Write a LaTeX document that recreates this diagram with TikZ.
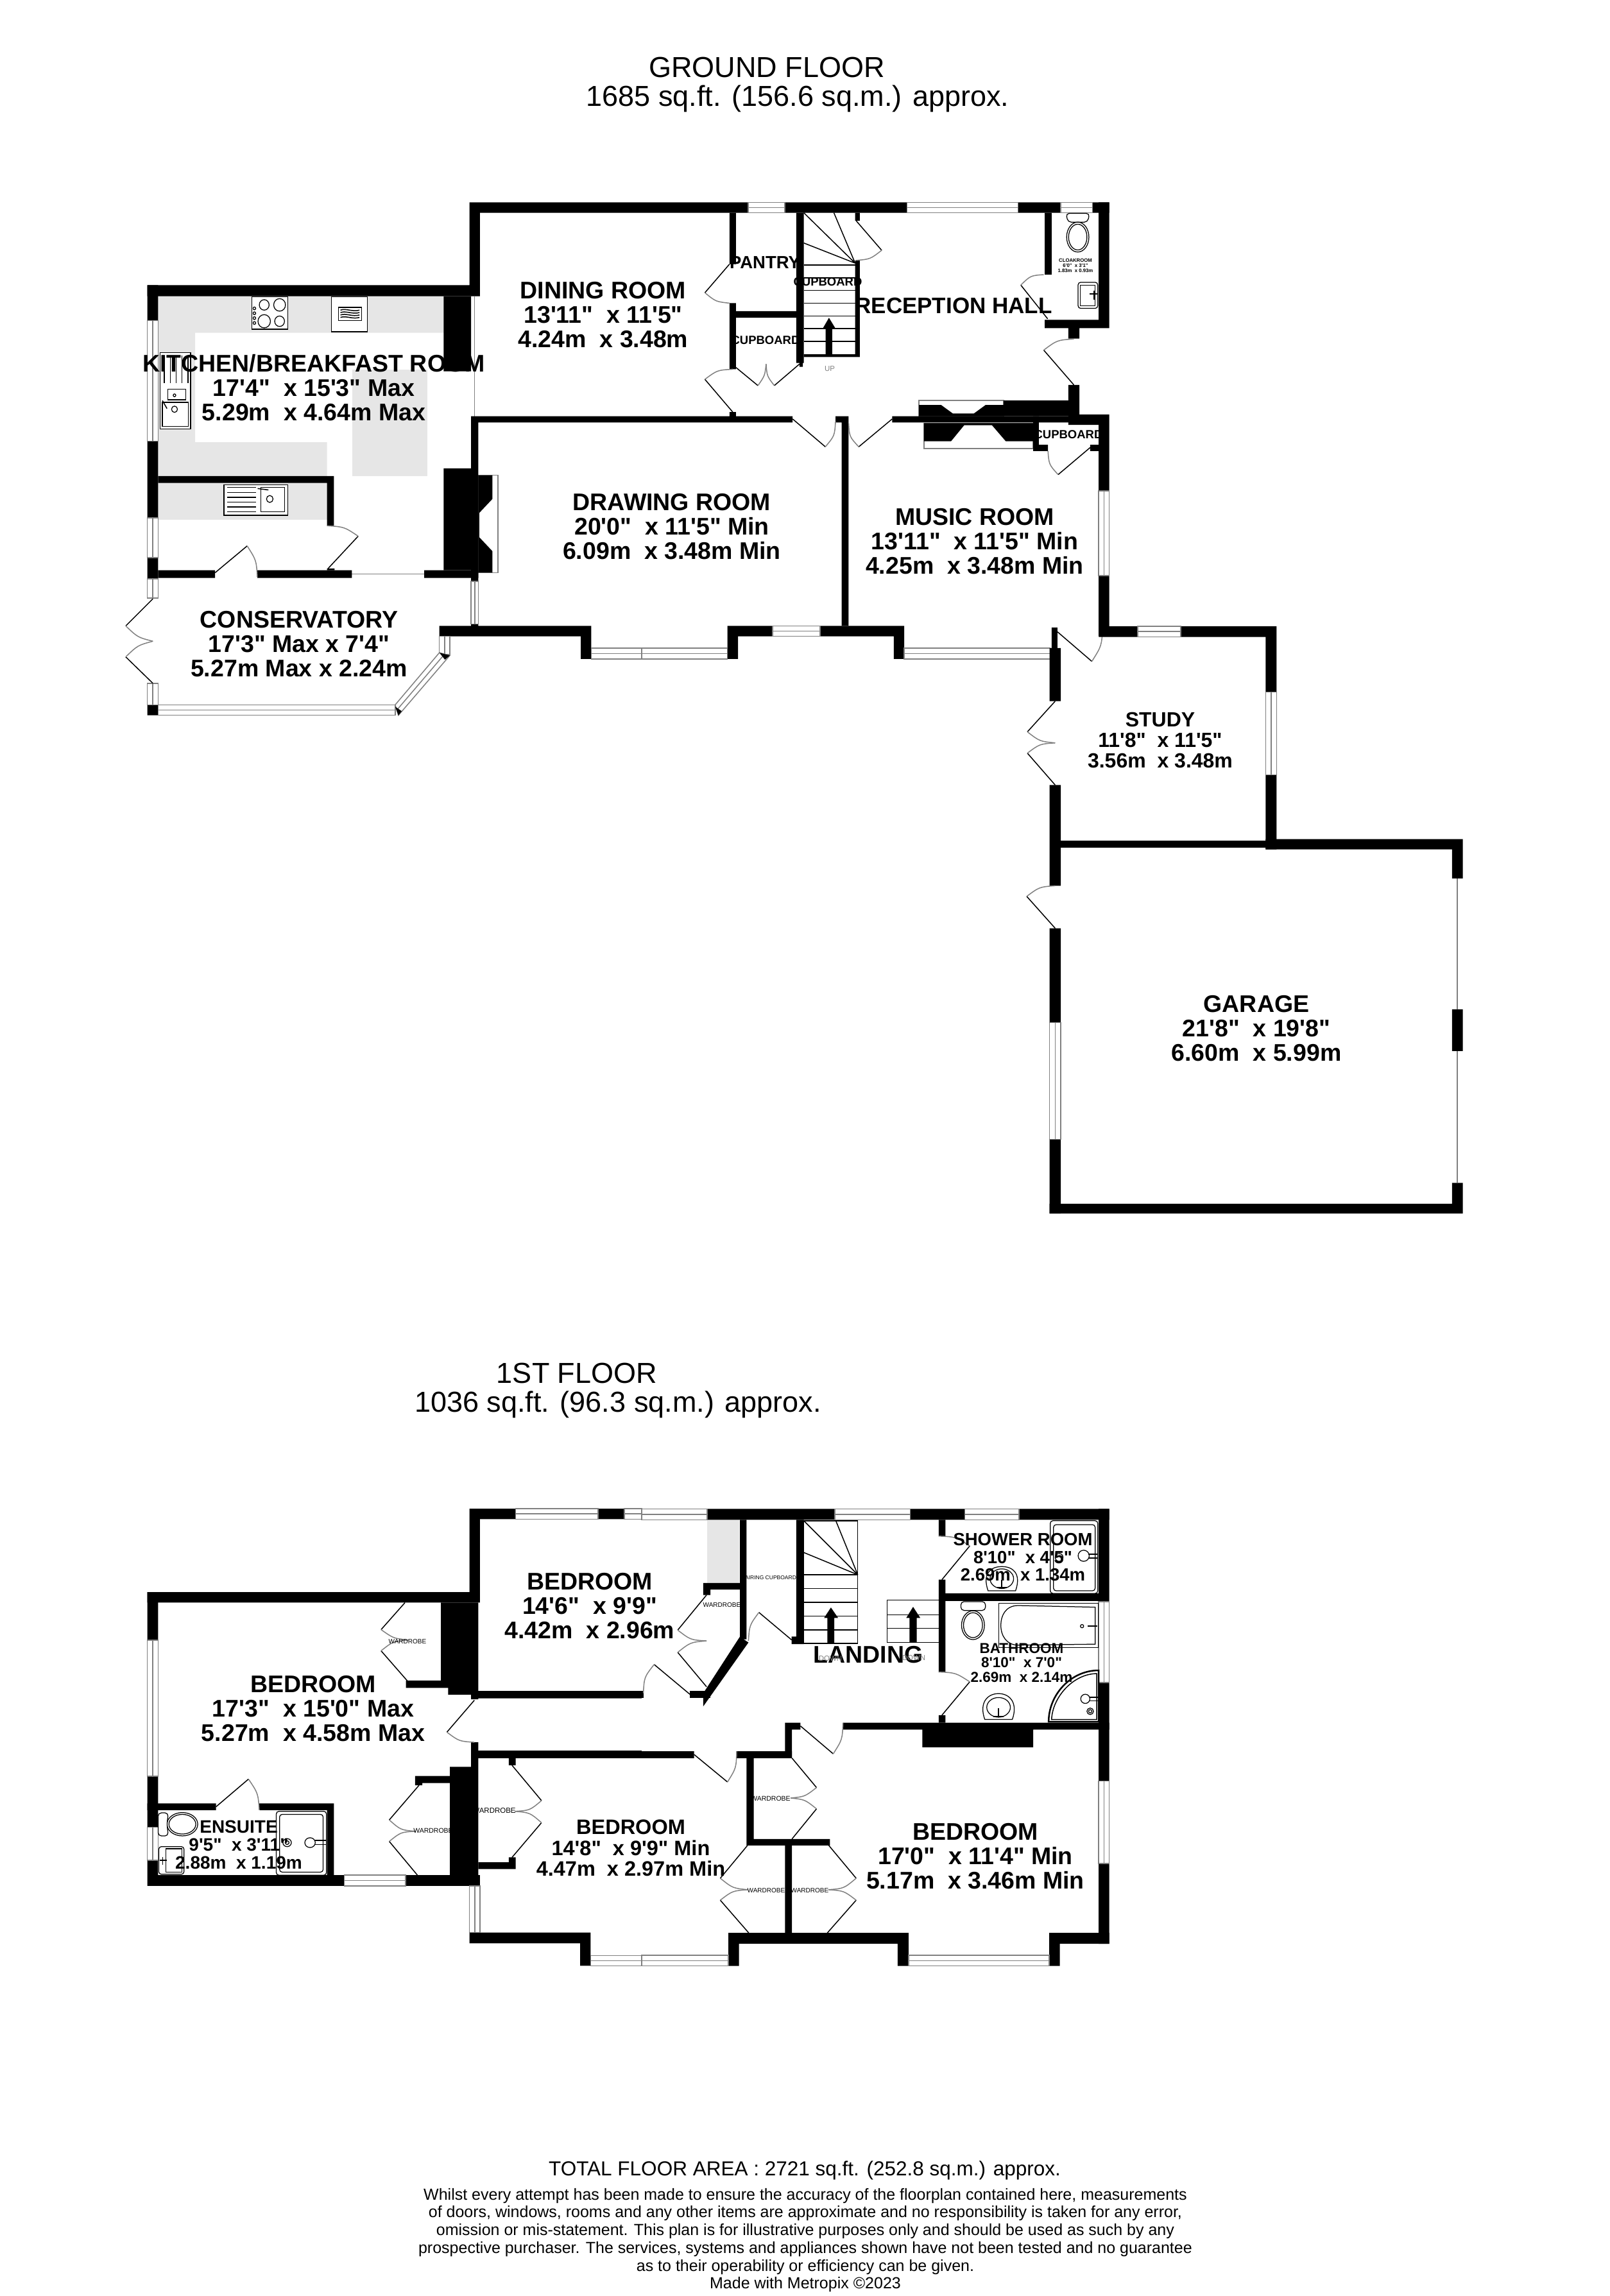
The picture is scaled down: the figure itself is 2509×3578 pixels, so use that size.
\documentclass[tikz,border=0pt]{standalone}
\usepackage{xcolor}
\usepackage{fontspec}
\setmainfont[Ligatures=TeXOff]{Liberation Sans}
\usetikzlibrary{calc}

\definecolor{unitgrey}{HTML}{E6E6E6}
\definecolor{linegrey}{HTML}{808080}

\newcommand\winh[4]{\draw[windowline] (#1,#3) rectangle (#2,#4) (#1,{(#3+#4)/2}) -- (#2,{(#3+#4)/2});}
\newcommand\winv[4]{\draw[windowline] (#1,#3) rectangle (#2,#4) ({(#1+#2)/2},#3) -- ({(#1+#2)/2},#4);}
\newcommand\doorleaf[3]{\draw[leafline] (#1) -- (#2); \draw[swingline] (#2) .. controls ($(#1)!1.11!($(#2)!.5!(#3)$)$) .. (#3);}

\begin{document}
\begin{tikzpicture}[x=0.2pt,y=-0.2pt]
	\tikzstyle{wall} = [fill=black]
	\tikzstyle{unit} = [fill=unitgrey]
	\tikzstyle{windowline} = [draw=linegrey, fill=white, line width=0.3pt]
	\tikzstyle{thinline} = [draw=linegrey, line width=0.3pt]
	\tikzstyle{leafline} = [draw=black, line width=0.3pt]
	\tikzstyle{swingline} = [draw=linegrey, line width=0.3pt]
	\tikzstyle{fitting} = [draw=black, fill=white, line width=0.25pt]
	\tikzstyle{biglabel} = [font=\fontsize{7.5}{7.6}\selectfont\bfseries, align=center, inner sep=0pt]
	\tikzstyle{notelabel} = [font=\fontsize{5}{5.55}\selectfont, align=center, inner sep=0pt]
	\tikzset{roomlabel/.style = {font=\fontsize{#1}{#1}\selectfont\bfseries, align=center, inner sep=0pt}}
	\tikzset{smalllabel/.style = {font=\fontsize{#1}{#1}\selectfont, align=center, inner sep=0pt}}
	\tikzset{groundwest/.style = {x=0.10204pt, y=-0.1084pt, shift={(40pt,-56pt)}}}
	\tikzset{groundeast/.style = {x=0.10204pt, y=-0.1084pt, shift={(200pt,-56pt)}}}
	\tikzset{groundgarage/.style = {x=0.10204pt, y=-0.12755pt, shift={(300pt,-186pt)}}}
	\tikzset{firstwest/.style = {x=0.10204pt, y=-0.09566pt, shift={(40pt,-466pt)}}}
	\tikzset{firsteast/.style = {x=0.10204pt, y=-0.10204pt, shift={(200pt,-466pt)}}}

	\useasboundingbox (0,0) rectangle (2509,3578);

	\begin{scope}[groundwest]
		\fill[unit] (91,335) -- (963,335) -- (963,440) -- (204,440) -- (204,755) -- (607,755) -- (607,852) -- (91,852) -- cycle;
		\fill[unit] (685,546) rectangle (913,852);
		\fill[unit] (91,872) rectangle (607,978);
		\draw[thinline] (1057,335) -- (1057,680);
		\draw[thinline] (683,1134) -- (904,1134);
		\draw[windowline] (1069,850) rectangle (1129,1130);
		\fill[wall] (1069,850) -- (1112,850) -- (1112,918) -- (1072,958) -- (1072,1028) -- (1112,1068) -- (1112,1130) -- (1069,1130) -- cycle;
		\fill[wall] (58,303) rectangle (1074,335) (1042,65) rectangle (1074,335) (1042,65) rectangle (1568,95);
		\fill[wall] (58,303) rectangle (91,405) (58,752) rectangle (91,972) (58,1087) rectangle (91,1148) (58,1510) rectangle (91,1540);
		\fill[wall] (963,335) rectangle (1047,551) (963,830) rectangle (1047,1123);
		\fill[wall] (1047,680) rectangle (1069,1155) (1047,680) rectangle (1568,698);
		\fill[wall] (91,1123) rectangle (265,1145) (394,1123) rectangle (683,1145) (904,1123) rectangle (1069,1145);
		\fill[wall] (91,852) rectangle (628,872) (607,852) rectangle (628,995) (607,1118) rectangle (630,1123);
		\fill[wall] (950,1283) rectangle (1414,1313) (1047,1278) rectangle (1069,1313) (1382,1283) rectangle (1414,1378);
		\winv{58}{91}{405}{752}
		\winv{58}{91}{972}{1087}
		\winv{58}{91}{1148}{1203}
		\winv{58}{91}{1448}{1510}
		\winv{1047}{1069}{1155}{1278}
		\winv{950}{982}{1313}{1365}
		\winh{91}{815}{1510}{1540}
		\winh{1414}{1568}{1347}{1378}
		\draw[windowline] (815,1510) -- (950,1360) -- (982,1368) -- (825,1540) -- cycle (820,1525) -- (966,1364);
		\fill[wall] (815,1515) -- (835,1528) -- (825,1540) -- cycle (950,1360) -- (982,1368) -- (967,1380) -- cycle;
		\doorleaf{265,1130}{363,1053}{394,1143}
		\doorleaf{610,1118}{702,1025}{607,995}
		\doorleaf{75,1205}{-8,1283}{75,1327}
		\doorleaf{75,1448}{-8,1372}{75,1327}
		\draw[fitting] (377,337) rectangle (487,430);
		\draw[fitting] (415,360) circle [x radius=15, y radius=15] (462,360) circle [x radius=18, y radius=18] (415,407) circle [x radius=19, y radius=19] (462,407) circle [x radius=15, y radius=15];
		\foreach \knoby in {370,384,398,412} {\draw[fitting] (385,\knoby) circle [x radius=4, y radius=4];}
		\draw[fitting] (620,337) rectangle (730,437);
		\draw[fitting] (642,367) rectangle (712,405);
		\foreach \wavey in {375,382,389,396} {\draw[leafline] (648,\wavey) .. controls (665,\wavey-6) and (685,\wavey+6) .. (706,\wavey);}
		\draw[fitting] (97,497) rectangle (190,717);
		\foreach \drainx in {110,128,146,164,182} {\draw[leafline] (\drainx,505) -- (\drainx,585);}
		\draw[fitting] (120,602) rectangle (175,633);
		\draw[fitting] (104,640) rectangle (183,710);
		\draw[fitting] (141,620) circle [x radius=4, y radius=4] (141,660) circle [x radius=9, y radius=9];
		\draw[leafline] (104,635) -- (118,658);
		\draw[fitting] (292,877) rectangle (487,965);
		\foreach \drainy in {885,899,913,927,941,955} {\draw[leafline] (302,\drainy) -- (390,\drainy);}
		\draw[fitting] (405,885) rectangle (477,955);
		\draw[fitting] (432,918) circle [x radius=10, y radius=10];
		\draw[leafline] (395,888) -- (428,892);
	\end{scope}

	\begin{scope}[groundeast]
		\draw[windowline] (847,635) rectangle (1105,680);
		\draw[windowline] (862,700) rectangle (1196,773);
		\fill[wall] (847,648) -- (915,648) -- (950,672) -- (1015,672) -- (1050,648) -- (1105,648) -- (1105,680) -- (847,680) -- cycle;
		\fill[wall] (862,700) -- (1196,700) -- (1196,752) -- (1112,752) -- (1070,706) -- (985,706) -- (945,752) -- (862,752) -- cycle;
		\fill[wall] (0,65) rectangle (325,95) (437,65) rectangle (810,95) (1150,65) rectangle (1280,95) (1377,65) rectangle (1428,95);
		\fill[wall] (1396,65) rectangle (1428,427) (1231,95) rectangle (1252,273) (1231,403) rectangle (1428,427) (1303,403) rectangle (1337,457);
		\fill[wall] (1303,590) rectangle (1337,680) (1105,635) rectangle (1337,680);
		\fill[wall] (268,95) rectangle (288,243) (268,355) rectangle (288,545) (288,378) rectangle (472,397);
		\fill[wall] (472,95) rectangle (495,527) (482,527) rectangle (492,538);
		\fill[wall] (652,95) rectangle (666,118) (652,232) rectangle (666,510) (495,502) rectangle (666,510);
		\fill[wall] (0,680) rectangle (461,698) (592,680) rectangle (632,698) (611,680) rectangle (632,1283) (765,680) rectangle (1337,698) (268,668) rectangle (288,680);
		\fill[wall] (1303,675) rectangle (1428,705) (1396,675) rectangle (1428,895) (1396,1138) rectangle (1428,1313);
		\fill[wall] (1196,680) rectangle (1213,780) (1196,762) rectangle (1241,780) (1370,762) rectangle (1396,780);
		\fill[wall] (262,1283) rectangle (294,1378) (262,1283) rectangle (400,1313) (545,1283) rectangle (802,1313) (770,1283) rectangle (802,1378);
		\winh{325}{437}{65}{95}
		\winh{810}{1150}{65}{95}
		\winh{1280}{1377}{65}{95}
		\winh{400}{545}{1283}{1313}
		\winh{0}{262}{1347}{1378}
		\winh{802}{1248}{1347}{1378}
		\winv{1396}{1428}{895}{1138}
		\foreach \tready in {245,282,318,355,392,428,465} {\draw[leafline] (495,\tready) -- (652,\tready);}
		\draw[leafline] (495,95) -- (652,240) (587,95) -- (652,240) (495,182) -- (652,240);
		\fill[wall] (562,503) -- (562,428) -- (553,428) -- (572,397) -- (592,428) -- (582,428) -- (582,503) -- cycle;
		\doorleaf{655,118}{733,203}{655,232}
		\doorleaf{268,243}{193,325}{268,355}
		\doorleaf{278,668}{193,574}{278,545}
		\doorleaf{288,540}{355,592}{380,530}
		\doorleaf{482,530}{405,592}{380,530}
		\doorleaf{461,688}{561,768}{592,695}
		\doorleaf{765,688}{663,768}{632,700}
		\doorleaf{1240,400}{1158,303}{1228,273}
		\doorleaf{1320,590}{1228,490}{1320,458}
		\doorleaf{1370,770}{1272,848}{1241,780}
		\doorleaf{1270,1300}{1375,1385}{1408,1288}
		\draw[fitting, rounded corners=1pt] (1296,97) -- (1368,97) -- (1362,122) -- (1302,122) -- cycle;
		\draw[fitting] (1332,165) circle [x radius=34, y radius=43] (1332,165) circle [x radius=28, y radius=37];
		\draw[fitting, rounded corners=0.8pt] (1333,295) rectangle (1393,370);
		\draw[fitting] (1340,303) rectangle (1385,362);
		\draw[leafline] (1368,328) -- (1392,328) (1382,320) -- (1382,345);
	\end{scope}

	\begin{scope}[groundgarage]
		\fill[wall] (416,72) rectangle (535,98) (666,72) rectangle (959,98) (926,72) rectangle (959,233) (926,435) rectangle (959,617);
		\fill[wall] (272,75) rectangle (290,125) (266,125) rectangle (300,255) (266,460) rectangle (300,706) (266,810) rectangle (300,1040) (266,1326) rectangle (300,1507);
		\fill[wall] (300,596) rectangle (926,613) (926,592) rectangle (1528,617) (1495,592) rectangle (1528,688) (1495,1008) rectangle (1528,1110) (1495,1432) rectangle (1528,1507) (266,1483) rectangle (1528,1507);
		\winh{535}{666}{72}{98}
		\winv{926}{959}{233}{435}
		\winv{266}{300}{1040}{1326}
		\draw[thinline] (1511,688) -- (1511,1008) (1511,1110) -- (1511,1432);
		\doorleaf{283,255}{198,330}{283,357}
		\doorleaf{283,460}{198,382}{283,357}
		\doorleaf{283,810}{196,732}{283,706}
	\end{scope}

	\begin{scope}[firstwest]
		\fill[wall] (58,316) rectangle (1074,350) (1042,44) rectangle (1074,350) (1042,44) rectangle (1183,78) (1435,44) rectangle (1515,78);
		\fill[wall] (58,316) rectangle (91,472) (58,916) rectangle (91,1082) (58,1190) rectangle (91,1273) (58,1238) rectangle (660,1273) (847,1238) rectangle (1074,1273);
		\fill[wall] (58,1004) rectangle (268,1026) (400,1004) rectangle (628,1026) (607,1004) rectangle (628,1238);
		\fill[wall] (955,350) rectangle (1047,605) (977,605) rectangle (1047,650) (848,604) rectangle (977,628);
		\fill[wall] (1047,350) rectangle (1069,665) (1047,638) rectangle (1568,662);
		\fill[wall] (1047,805) rectangle (1069,1238) (1047,832) rectangle (1568,857) (982,885) rectangle (1047,1238) (876,915) rectangle (982,938) (876,915) rectangle (898,945);
		\fill[wall] (1162,857) rectangle (1183,880) (1069,1196) rectangle (1183,1218) (1162,1180) rectangle (1183,1218);
		\fill[wall] (1042,1425) rectangle (1412,1460) (1380,1425) rectangle (1412,1533);
		\winh{1183}{1435}{44}{78}
		\winh{1515}{1568}{44}{78}
		\winv{58}{91}{472}{916}
		\winv{58}{91}{1082}{1190}
		\winh{660}{847}{1238}{1273}
		\winv{1042}{1074}{1273}{1425}
		\winh{1412}{1568}{1500}{1533}
		\doorleaf{268,1015}{367,925}{400,1026}
		\doorleaf{1057,668}{973,772}{1057,805}
		\doorleaf{845,350}{772,438}{855,472}
		\doorleaf{858,612}{772,507}{855,472}
		\doorleaf{888,945}{797,1058}{878,1095}
		\doorleaf{883,1238}{797,1128}{878,1095}
		\doorleaf{1172,880}{1262,995}{1180,1030}
		\doorleaf{1172,1180}{1262,1067}{1180,1030}
		\draw[fitting] (165,1072) circle [x radius=47, y radius=38] (165,1072) circle [x radius=41, y radius=32];
		\draw[fitting, rounded corners=1pt] (122,1035) -- (91,1035) -- (91,1110) -- (122,1110) -- (118,1072) -- cycle;
		\draw[fitting, rounded corners=0.8pt] (93,1145) rectangle (170,1235);
		\draw[fitting] (115,1152) rectangle (163,1228);
		\draw[leafline] (97,1190) -- (118,1190) (105,1178) -- (105,1205);
		\draw[fitting, rounded corners=0.8pt] (452,1030) rectangle (605,1238);
		\draw[fitting, rounded corners=0.8pt] (462,1040) rectangle (595,1228);
		\draw[fitting] (485,1132) circle [x radius=13, y radius=13] (485,1132) circle [x radius=6, y radius=6];
		\draw[fitting] (555,1132) circle [x radius=16, y radius=16];
		\draw[leafline] (570,1125) -- (603,1125) (570,1138) -- (603,1138);
	\end{scope}

	\begin{scope}[firsteast]
		\fill[unit] (200,75) rectangle (298,268);
		\fill[wall] (0,598) rectangle (5,620);
		\fill[wall] (200,42) rectangle (590,75) (820,42) rectangle (987,75) (1152,42) rectangle (1428,75);
		\fill[wall] (1396,42) rectangle (1428,325) (1396,572) rectangle (1428,873) (1396,1125) rectangle (1428,1370);
		\fill[wall] (188,268) rectangle (300,288) (188,268) rectangle (210,305) (300,75) rectangle (320,440) (472,75) rectangle (495,455) (458,432) rectangle (495,455);
		\fill[wall] (300,432) -- (326,450) -- (188,645) -- (188,605) -- cycle;
		\fill[wall] (147,597) rectangle (210,620);
		\fill[wall] (907,75) rectangle (928,125) (907,258) rectangle (928,540) (907,672) rectangle (928,695) (928,300) rectangle (1396,323);
		\fill[wall] (615,695) rectangle (1428,716) (438,695) rectangle (485,716) (438,695) rectangle (459,803) (857,716) rectangle (1196,770);
		\fill[wall] (0,782) rectangle (160,803) (290,782) rectangle (459,803) (320,803) rectangle (342,1070) (320,1050) rectangle (575,1070) (438,1070) rectangle (459,1337);
		\fill[wall] (265,1337) rectangle (815,1370) (265,1337) rectangle (297,1438) (782,1337) rectangle (815,1438) (1245,1337) rectangle (1428,1370) (1245,1337) rectangle (1277,1438);
		\winh{0}{200}{42}{75}
		\winh{590}{820}{42}{75}
		\winh{987}{1152}{42}{75}
		\winv{1396}{1428}{325}{572}
		\winv{1396}{1428}{873}{1125}
		\winh{0}{265}{1405}{1438}
		\winh{815}{1245}{1405}{1438}
		\draw[leafline] (495,78) rectangle (660,453);
		\foreach \tready in {243,285,327,369,411} {\draw[leafline] (495,\tready) -- (660,\tready);}
		\draw[leafline] (495,78) -- (660,243) (593,78) -- (660,243) (495,175) -- (660,243);
		\fill[wall] (567,453) -- (567,375) -- (557,375) -- (578,343) -- (600,375) -- (588,375) -- (588,453) -- cycle;
		\draw[leafline] (907,320) -- (750,320) -- (750,450) -- (907,450) (750,365) -- (907,365) (750,407) -- (907,407);
		\fill[wall] (818,450) -- (818,375) -- (808,375) -- (829,341) -- (851,375) -- (840,375) -- (840,450) -- cycle;
		\doorleaf{458,442}{358,358}{326,445}
		\doorleaf{147,608}{38,517}{5,605}
		\doorleaf{198,305}{110,412}{198,445}
		\doorleaf{198,585}{110,480}{198,445}
		\doorleaf{917,258}{1002,155}{907,125}
		\doorleaf{917,672}{1002,570}{907,540}
		\doorleaf{485,705}{585,790}{615,695}
		\doorleaf{160,792}{262,876}{290,782}
		\doorleaf{459,803}{534,893}{455,925}
		\doorleaf{459,1050}{534,958}{455,925}
		\doorleaf{323,1070}{240,1170}{325,1205}
		\doorleaf{327,1337}{240,1237}{325,1205}
		\doorleaf{565,1062}{655,1170}{570,1205}
		\doorleaf{567,1337}{655,1237}{570,1205}
		\draw[fitting, rounded corners=0.8pt] (1248,78) rectangle (1393,300);
		\draw[fitting, rounded corners=0.8pt] (1258,90) rectangle (1385,292);
		\draw[fitting] (1350,185) circle [x radius=17, y radius=17] (1275,190) circle [x radius=12, y radius=12];
		\draw[leafline] (1365,180) -- (1392,180) (1365,192) -- (1392,192);
		\draw[fitting] (1058,292) .. controls (1040,240) and (1065,218) .. (1100,218) .. controls (1135,218) and (1160,240) .. (1142,292) -- cycle;
		\draw[fitting] (1100,255) circle [x radius=36, y radius=30];
		\draw[leafline] (1100,258) -- (1100,285) (1085,282) -- (1115,282);
		\draw[fitting] (1090,330) rectangle (1395,465);
		\draw[fitting] (1385,342) -- (1150,337) .. controls (1110,337) and (1097,370) .. (1097,397) .. controls (1097,430) and (1115,458) .. (1150,458) -- (1385,455) -- cycle;
		\draw[fitting] (1345,400) circle [x radius=5, y radius=5];
		\draw[leafline] (1362,400) -- (1392,400) (1385,383) -- (1385,415);
		\draw[fitting, rounded corners=1pt] (975,325) rectangle (1050,352);
		\draw[fitting] (1012,397) circle [x radius=35, y radius=44] (1012,397) circle [x radius=29, y radius=38];
		\draw[fitting] (1048,685) .. controls (1030,635) and (1055,606) .. (1090,606) .. controls (1125,606) and (1150,635) .. (1132,685) -- cycle;
		\draw[fitting] (1090,648) circle [x radius=36, y radius=30];
		\draw[leafline] (1090,650) -- (1090,678) (1075,676) -- (1105,676);
		\draw[fitting, line width=0.5pt] (1243,692) .. controls (1243,610) and (1310,535) .. (1396,535) -- (1396,692) -- cycle;
		\draw[leafline] (1252,685) .. controls (1255,615) and (1320,545) .. (1390,545) -- (1390,685) -- cycle;
		\draw[fitting] (1355,622) circle [x radius=14, y radius=14] (1370,660) circle [x radius=10, y radius=10] (1370,660) circle [x radius=5, y radius=5];
		\draw[leafline] (1368,617) -- (1395,617) (1368,628) -- (1395,628);
	\end{scope}

	\node[smalllabel=9](groundtitle) at (1195,105) {GROUND FLOOR};
	\node[smalllabel=9](groundarea) at (1243,154) {1685 sq.ft. (156.6 sq.m.) approx.};
	\node[smalllabel=9](firsttitle) at (899,2140) {1ST FLOOR};
	\node[smalllabel=9](firstarea) at (963,2189) {1036 sq.ft. (96.3 sq.m.) approx.};

	\node[biglabel](kitchen) at (489,604) {KITCHEN/BREAKFAST ROOM\\17'4"~~x 15'3" Max\\5.29m~~x 4.64m Max};
	\node[biglabel](dining) at (940,491) {DINING ROOM\\13'11"~~x 11'5"\\4.24m~~x 3.48m};
	\node[biglabel](drawing) at (1047,821) {DRAWING ROOM\\20'0"~~x 11'5" Min\\6.09m~~x 3.48m Min};
	\node[biglabel](music) at (1519,844) {MUSIC ROOM\\13'11"~~x 11'5" Min\\4.25m~~x 3.48m Min};
	\node[biglabel](conservatory) at (466,1004) {CONSERVATORY\\17'3" Max x 7'4"\\5.27m Max x 2.24m};
	\node[roomlabel=7](reception) at (1486,476) {RECEPTION HALL};
	\node[roomlabel=5.5](pantry) at (1192,409) {PANTRY};
	\node[roomlabel=3.7](stairbox) at (1290,439) {CUPBOARD};
	\node[roomlabel=3.7](pantrybox) at (1193,530) {CUPBOARD};
	\node[roomlabel=3.7](musicbox) at (1665,677) {CUPBOARD};
	\node[roomlabel=1.55](cloakroom) at (1676,414) {CLOAKROOM\\6'0"~~x 3'1"\\1.83m~~x 0.93m};
	\node[smalllabel=2.3, text=linegrey](stairup) at (1293,575) {UP};
	\node[roomlabel=6.4](study) at (1808,1153) {STUDY\\11'8"~~x 11'5"\\3.56m~~x 3.48m};
	\node[biglabel](garage) at (1958,1603) {GARAGE\\21'8"~~x 19'8"\\6.60m~~x 5.99m};

	\node[biglabel](bedroomwest) at (488,2663) {BEDROOM\\17'3"~~x 15'0" Max\\5.27m~~x 4.58m Max};
	\node[roomlabel=5.6](ensuite) at (372,2875) {ENSUITE\\9'5"~~x 3'11"\\2.88m~~x 1.19m};
	\node[biglabel](bedroomnorth) at (919,2503) {BEDROOM\\14'6"~~x 9'9"\\4.42m~~x 2.96m};
	\node[roomlabel=6.5](bedroomsouth) at (983,2880) {BEDROOM\\14'8"~~x 9'9" Min\\4.47m~~x 2.97m Min};
	\node[biglabel](bedroomeast) at (1520,2893) {BEDROOM\\17'0"~~x 11'4" Min\\5.17m~~x 3.46m Min};
	\node[biglabel](landing) at (1353,2579) {LANDING};
	\node[roomlabel=5.5](shower) at (1594,2427) {SHOWER ROOM\\8'10"~~x 4'5"\\2.69m~~x 1.34m};
	\node[roomlabel=4.5](bathroom) at (1592,2591) {BATHROOM\\8'10"~~x 7'0"\\2.69m~~x 2.14m};
	\node[smalllabel=2.3, text=linegrey](downwest) at (1294,2585) {DOWN};
	\node[smalllabel=2.3, text=linegrey](downeast) at (1424,2584) {DOWN};
	\node[smalllabel=1.7](airing) at (1201,2459) {AIRING CUPBOARD};
	\node[smalllabel=2](robea) at (635,2558) {WARDROBE};
	\node[smalllabel=2.1](robeb) at (675,2853) {WARDROBE};
	\node[smalllabel=2.3](robec) at (770,2822) {WARDROBE};
	\node[smalllabel=2](robed) at (1125,2501) {WARDROBE};
	\node[smalllabel=2.1](robee) at (1201,2803) {WARDROBE};
	\node[smalllabel=2](robef) at (1194,2946) {WARDROBE};
	\node[smalllabel=2](robeg) at (1262,2946) {WARDROBE};

	\node[smalllabel=6.3](totalarea) at (1254,3382) {TOTAL FLOOR AREA : 2721 sq.ft. (252.8 sq.m.) approx.};
	\node[notelabel](disclaimer) at (1255,3491) {Whilst every attempt has been made to ensure the accuracy of the floorplan contained here, measurements\\of doors, windows, rooms and any other items are approximate and no responsibility is taken for any error,\\omission or mis-statement. This plan is for illustrative purposes only and should be used as such by any\\prospective purchaser. The services, systems and appliances shown have not been tested and no guarantee\\as to their operability or efficiency can be given.\\Made with Metropix \textcopyright 2023};
\end{tikzpicture}
\end{document}
